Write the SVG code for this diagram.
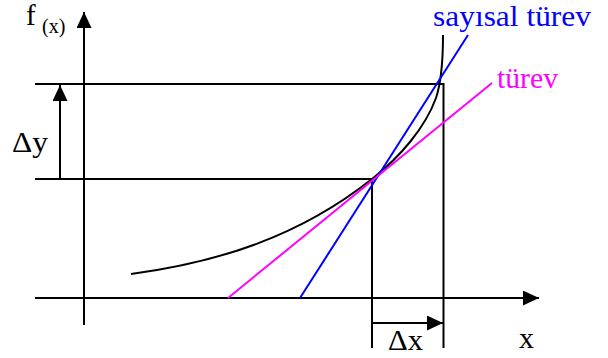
<svg xmlns="http://www.w3.org/2000/svg" width="608" height="358" viewBox="0 0 608 358">
<style>
  .ln { stroke: #000; stroke-width: 2; fill: none; }
  .t { font-family: "Liberation Serif", "Times New Roman", serif; font-size: 30px; fill: #000; }
</style>
<defs>
  <marker id="ah" viewBox="0 0 16 15" refX="16" refY="7.5" markerWidth="16" markerHeight="15" orient="auto" markerUnits="userSpaceOnUse">
    <path d="M0,0 L16,7.5 L0,15 z" fill="#000"/>
  </marker>
</defs>
<rect width="608" height="358" fill="#fff"/>
<g id="axes">
  <line class="ln" x1="84" y1="325" x2="84" y2="12" marker-end="url(#ah)"/>
  <line class="ln" x1="35" y1="298" x2="539" y2="298" marker-end="url(#ah)"/>
</g>
<g id="guides">
  <polyline class="ln" points="35,84 443.5,84 443.5,348"/>
  <polyline class="ln" points="35,179 372,179 372,348"/>
  <line class="ln" x1="60" y1="179" x2="60" y2="85" marker-end="url(#ah)"/>
  <line class="ln" x1="372" y1="323" x2="443" y2="323" marker-end="url(#ah)"/>
</g>
<g id="curve">
  <path class="ln" d="M131,274 C220,262 300,236 372,179 C400,157 425,128 436,98 C442,80 443,55 443,35"/>
</g>
<g id="tangents">
  <line x1="300" y1="298" x2="468" y2="35" stroke="#0000ff" stroke-width="2"/>
  <line x1="228" y1="298" x2="492" y2="83" stroke="#ff00ff" stroke-width="2"/>
</g>
<g id="labels">
  <text class="t" x="26" y="25" style="font-size:29px">f<tspan x="42" y="33" style="font-size:20px">(x)</tspan></text>
  <text class="t" x="433" y="26" style="fill:#0000ff" textLength="158" lengthAdjust="spacingAndGlyphs">sayısal türev</text>
  <text class="t" x="497" y="88" style="fill:#ff00ff" textLength="61" lengthAdjust="spacingAndGlyphs">türev</text>
  <text class="t" x="12" y="152" textLength="36" lengthAdjust="spacingAndGlyphs">Δy</text>
  <text class="t" x="388" y="350" textLength="35" lengthAdjust="spacingAndGlyphs">Δx</text>
  <text class="t" x="519" y="348">x</text>
</g>
</svg>
